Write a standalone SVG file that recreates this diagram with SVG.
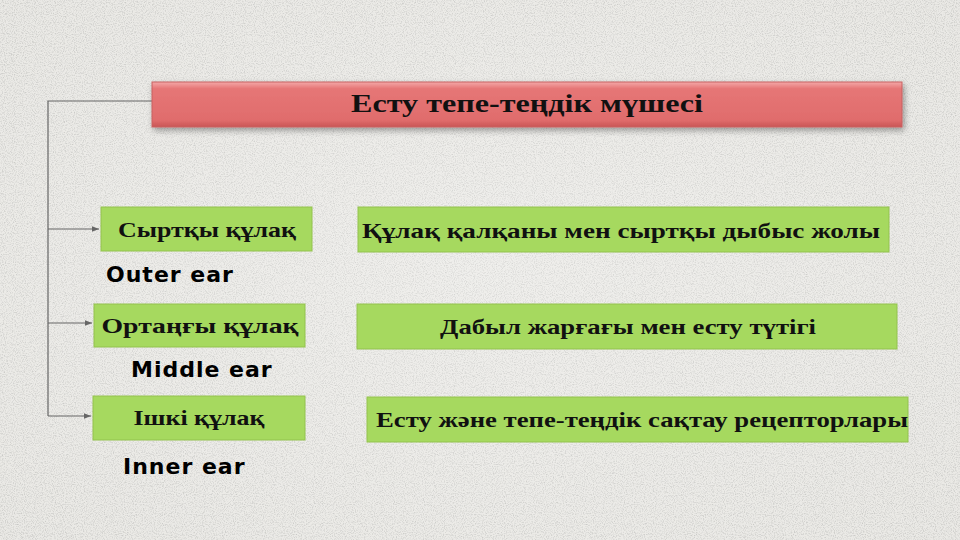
<svg xmlns="http://www.w3.org/2000/svg" width="960" height="540" viewBox="0 0 960 540">
<defs>
<style>
.kz{font-family:"Liberation Serif","DejaVu Serif",serif;font-weight:bold;fill:#111;}
.en{font-family:"DejaVu Sans","Liberation Sans",sans-serif;font-weight:bold;fill:#000;font-size:22px;letter-spacing:1px;}
.gbox{fill:#a6d95f;stroke:#93c24e;stroke-width:1;}
.conn{fill:none;stroke:#666;stroke-width:1.2;}
</style>
<filter id="noise" x="0" y="0" width="100%" height="100%">
<feTurbulence type="fractalNoise" baseFrequency="0.9" numOctaves="2" seed="3"/>
<feColorMatrix type="matrix" values="0 0 0 0 0.55  0 0 0 0 0.55  0 0 0 0 0.53  0 0 0 -2.2 1.25"/>
</filter>
<radialGradient id="vig" cx="50%" cy="50%" r="70%">
<stop offset="0" stop-color="#fff" stop-opacity="0.3"/>
<stop offset="1" stop-color="#fff" stop-opacity="0.05"/>
</radialGradient>
<linearGradient id="red" x1="0" y1="0" x2="0" y2="1">
<stop offset="0" stop-color="#f4a8a8"/>
<stop offset="0.15" stop-color="#e67676"/>
<stop offset="0.85" stop-color="#e06c6c"/>
<stop offset="1" stop-color="#c95555"/>
</linearGradient>
<filter id="sh" x="-5%" y="-30%" width="110%" height="170%">
<feDropShadow dx="2" dy="3" stdDeviation="3" flood-color="#000" flood-opacity="0.35"/>
</filter>
<marker id="arr" viewBox="0 0 10 10" refX="10" refY="5" markerWidth="7" markerHeight="7" orient="auto" markerUnits="userSpaceOnUse">
<path d="M0,1 L10,5 L0,9 z" fill="#666"/>
</marker>
</defs>
<rect width="960" height="540" fill="#e9e8e4"/>
<rect width="960" height="540" filter="url(#noise)"/>
<rect width="960" height="540" fill="url(#vig)"/>

<g id="connectors">
<path class="conn" d="M152,101 H48 V416"/>
<path class="conn" d="M48,229 H99" marker-end="url(#arr)"/>
<path class="conn" d="M48,323 H92" marker-end="url(#arr)"/>
<path class="conn" d="M48,416 H91" marker-end="url(#arr)"/>
</g>

<g id="title">
<rect x="152" y="82" width="750" height="45" fill="url(#red)" stroke="#c86060" stroke-width="1" filter="url(#sh)"/>
<text class="kz" x="527" y="112" font-size="26" text-anchor="middle" textLength="352" lengthAdjust="spacingAndGlyphs">Есту тепе-теңдік мүшесі</text>
</g>

<g id="outer">
<rect class="gbox" x="101" y="207" width="211" height="44"/>
<text class="kz" x="207" y="237" font-size="21" text-anchor="middle" textLength="178" lengthAdjust="spacingAndGlyphs">Сыртқы құлақ</text>
</g>
<g id="outer-label"><text class="en" x="106" y="282">Outer ear</text></g>

<g id="middle">
<rect class="gbox" x="94" y="304" width="211" height="43"/>
<text class="kz" x="200" y="333" font-size="21" text-anchor="middle" textLength="197" lengthAdjust="spacingAndGlyphs">Ортаңғы құлақ</text>
</g>
<g id="middle-label"><text class="en" x="131" y="377">Middle ear</text></g>

<g id="inner">
<rect class="gbox" x="93" y="396" width="212" height="44"/>
<text class="kz" x="199" y="425" font-size="21" text-anchor="middle" textLength="131" lengthAdjust="spacingAndGlyphs">Ішкі құлақ</text>
</g>
<g id="inner-label"><text class="en" x="123" y="474">Inner ear</text></g>

<g id="outer-desc">
<rect class="gbox" x="358" y="207" width="531" height="45"/>
<text class="kz" x="621" y="238" font-size="21" text-anchor="middle" textLength="518" lengthAdjust="spacingAndGlyphs">Құлақ қалқаны мен сыртқы дыбыс жолы</text>
</g>

<g id="middle-desc">
<rect class="gbox" x="357" y="304" width="540" height="45"/>
<text class="kz" x="628" y="334" font-size="21" text-anchor="middle" textLength="376" lengthAdjust="spacingAndGlyphs">Дабыл жарғағы мен есту түтігі</text>
</g>

<g id="inner-desc">
<rect class="gbox" x="367" y="397" width="541" height="45"/>
<text class="kz" x="376" y="427" font-size="21" textLength="532" lengthAdjust="spacingAndGlyphs">Есту және тепе-теңдік сақтау рецепторлары</text>
</g>
</svg>
